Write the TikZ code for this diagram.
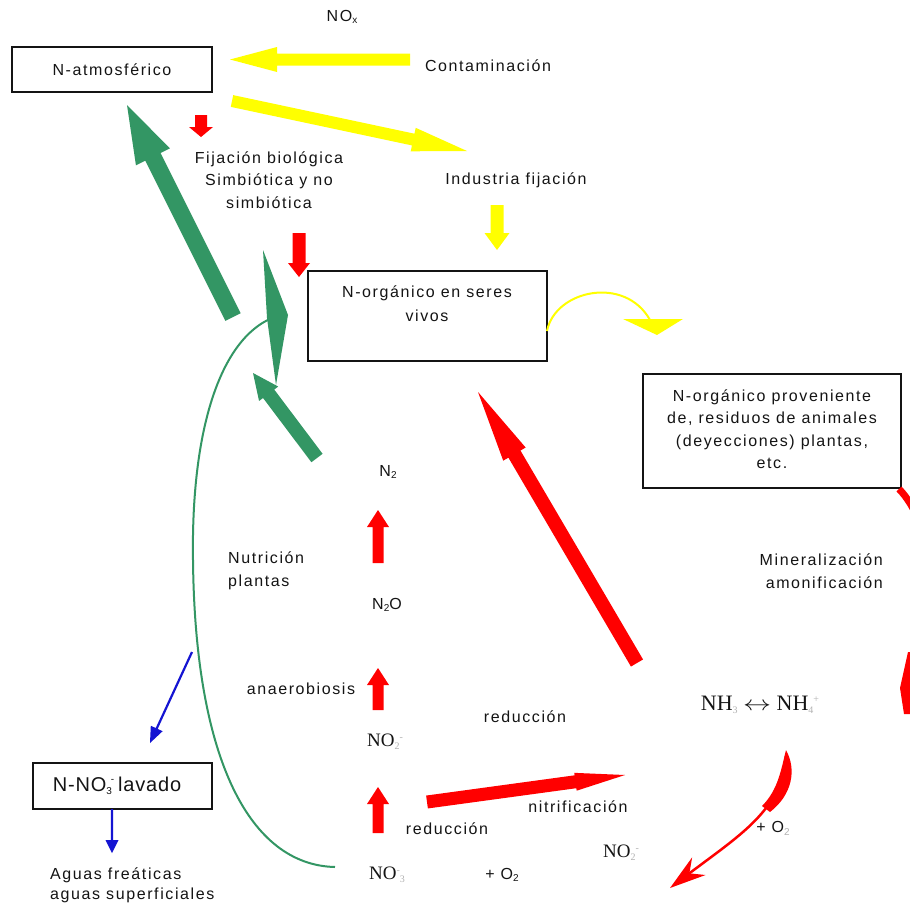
\documentclass[tikz,border=0pt]{standalone}
\usepackage{graphicx}
\usepackage{fontspec}
\setmainfont{Liberation Sans}
\newfontfamily\lbl[LetterSpace=10]{Liberation Sans}
\newfontfamily\lblb[LetterSpace=4]{Liberation Sans}
\newfontfamily\serf{Liberation Serif}
\usetikzlibrary{calc,arrows.meta}
\definecolor{cyel}{RGB}{255,255,0}
\definecolor{cred}{RGB}{255,0,0}
\definecolor{cgreen}{RGB}{51,150,100}
\definecolor{cblue}{RGB}{20,20,210}
\definecolor{ctxt}{RGB}{20,20,20}
\newcommand{\lsub}[1]{\raisebox{-0.3ex}{\fontsize{10}{10}\selectfont #1}}
\newcommand{\lsup}[1]{\raisebox{0.9ex}{\fontsize{10}{10}\selectfont #1}}
\newcommand{\gsub}[1]{\raisebox{-0.35ex}{\fontsize{10}{10}\selectfont\color{gray!60}#1}}
\newcommand{\gsup}[1]{\raisebox{0.75ex}{\fontsize{10}{10}\selectfont\color{gray!60}#1}}
% block arrow: colour, tail, tip, shaft half width, head half width, head length
\newcommand{\fatarrow}[6]{%
  \coordinate (fabase) at ($(#3)!#6pt!(#2)$);
  \fill[#1] ($(#2)!#4pt!90:(#3)$) -- ($(fabase)!#4pt!90:(#3)$) -- ($(fabase)!#5pt!90:(#3)$) -- (#3)
     -- ($(fabase)!#5pt!-90:(#3)$) -- ($(fabase)!#4pt!-90:(#3)$) -- ($(#2)!#4pt!-90:(#3)$) -- cycle;}
\tikzset{
  lab/.style={font=\lbl\fontsize{16}{22.5}\selectfont, text=ctxt, inner sep=0pt, align=center},
  chem/.style={font=\serf\fontsize{19}{22}\selectfont, text=ctxt, inner sep=0pt},
  box/.style={draw=ctxt, line width=1.6pt, fill=white, inner sep=0pt},
}
\begin{document}
\begin{tikzpicture}[x=1pt,y=-1pt]
\useasboundingbox (0,0) rectangle (910,919);
\fill[white] (0,0) rectangle (910,919);

% ---------- boxes ----------
\node[box, minimum width=200pt, minimum height=45pt] (atm) at (112,69.5) {};
\node[lab] (atmt) at (112,69.5) {N-atmosférico};
\node[box, minimum width=239pt, minimum height=90pt] (org) at (427.5,316) {};
\node[lab, font=\lbl\fontsize{16}{24}\selectfont] (orgt) at (427,304) {N-orgánico en seres\\vivos};
\node[box, minimum width=258pt, minimum height=114pt] (res) at (772,431) {};
\node[lab] (rest) at (772,429) {N-orgánico proveniente\\de, residuos de animales\\(deyecciones) plantas,\\etc.};
\node[box, minimum width=179pt, minimum height=46pt] (lav) at (122.5,786) {};
\node[lab, font=\lblb\fontsize{20}{22}\selectfont] (lavt) at (117,786) {N-NO\lsub{3}\hspace{-1pt}\lsup{-}\hspace{0.2em}lavado};

% ---------- labels ----------
\node[lab] (nox) at (342,17) {NO\lsub{x}};
\node[lab] (cont) at (488,66) {Contaminación};
\node[lab] (fij) at (269,180) {Fijación biológica\\Simbiótica y no\\simbiótica};
\node[lab] (ind) at (516,180) {Industria fijación};
\node[lab, anchor=east, align=right] (mine) at (883,571) {Mineralización\\amonificación};
\node[lab, anchor=west, align=left] (nut) at (228,571) {Nutrición\\plantas};
\node[lab] (n2) at (388,472) {N\lsub{2}};
\node[lab] (n2o) at (387,605) {N\lsub{2}O};
\node[lab] (anae) at (301,689) {anaerobiosis};
\node[chem] (no2a) at (385,742) {NO\gsub{2}\gsup{-}};
\node[chem] (no3) at (387,875) {NO\gsup{-}\gsub{3}};
\node[lab] (red1) at (447,829) {reducción};
\node[lab] (nitr) at (578,807) {nitrificación};
\node[chem] (no2b) at (621,853) {NO\gsub{2}\gsup{-}};
\node[lab] (o2a) at (502,875) {+ O\lsub{2}};
\node[lab] (red2) at (525,717) {reducción};
\node[chem, font=\serf\fontsize{22}{24}\selectfont] (nh) at (760,705) {NH\gsub{3} \scalebox{1.35}[1]{$\leftrightarrow$} NH\gsub{4}\gsup{+}};
\node[lab] (o2b) at (773,828) {+ O\gsub{2}};
\node[lab, anchor=west, align=left, font=\lbl\fontsize{16}{20}\selectfont] (agua) at (50,885) {Aguas freáticas\\aguas superficiales};

% ---------- coordinates ----------
\coordinate (ya1t) at (410,59.5);  \coordinate (ya1h) at (230,59.5);
\coordinate (ya2t) at (232,101);   \coordinate (ya2h) at (467,151);
\coordinate (ya3t) at (497,205);   \coordinate (ya3h) at (497,250);
\coordinate (ra1t) at (201,115);   \coordinate (ra1h) at (201,137);
\coordinate (ra2t) at (299,233);   \coordinate (ra2h) at (299,277);
\coordinate (ra3t) at (378,563);   \coordinate (ra3h) at (378,510);
\coordinate (ra4t) at (378,710);   \coordinate (ra4h) at (378,668);
\coordinate (ra5t) at (378,833);   \coordinate (ra5h) at (378,787);
\coordinate (ra6t) at (637,663);   \coordinate (ra6h) at (478,392);
\coordinate (ra7t) at (427,802);   \coordinate (ra7h) at (625,775);
\coordinate (ga1t) at (233,317);   \coordinate (ga1h) at (127,105);
\coordinate (ga2t) at (317,458);   \coordinate (ga2h) at (253,373);
\coordinate (ba1t) at (192,652);   \coordinate (ba1h) at (150,743);
\coordinate (ba2t) at (112,809);   \coordinate (ba2h) at (112,853);
\coordinate (gcs) at (335,867);    \coordinate (gcm) at (193,560);  \coordinate (gce) at (272,318);
\coordinate (ycs) at (547,331);    \coordinate (yce) at (650,320);
\coordinate (rcs) at (786,756);    \coordinate (rce) at (670,888);

% ---------- yellow ----------
\fatarrow{cyel}{ya1t}{ya1h}{6}{12.5}{47}
\fatarrow{cyel}{ya2t}{ya2h}{6}{12}{55}
\fatarrow{cyel}{ya3t}{ya3h}{6.5}{12.5}{17}
\draw[cyel, line width=2pt] (ycs) .. controls (555,290) and (625,275) .. (yce);
\fill[cyel] (623,319) -- (683,319) -- (657,335) -- cycle;

% ---------- red ----------
\fatarrow{cred}{ra1t}{ra1h}{6}{12}{10}
\fatarrow{cred}{ra2t}{ra2h}{6.5}{11}{14}
\fatarrow{cred}{ra3t}{ra3h}{5.5}{11}{17}
\fatarrow{cred}{ra4t}{ra4h}{5.5}{11}{17}
\fatarrow{cred}{ra5t}{ra5h}{5.5}{11}{17}
\fatarrow{cred}{ra6t}{ra6h}{7}{13}{72}
\fatarrow{cred}{ra7t}{ra7h}{6.5}{9}{50}
\draw[cred, line width=2.5pt, -{Stealth[length=36pt,width=22pt]}] (rcs) .. controls (782,810) and (740,835) .. (rce);
\fill[cred] (786,750) .. controls (797,770) and (792,795) .. (770,812) -- (762,806) .. controls (778,790) and (781,770) .. cycle;
\begin{scope}
  \clip (0,0) rectangle (910,919);
  \draw[cred, line width=7pt] (899,489) .. controls (915,505) and (930,540) .. (935,580);
  \fill[cred] (908,652) -- (900,688) -- (904,714) -- (915,714) -- (915,652) -- cycle;
\end{scope}

% ---------- green ----------
\fatarrow{cgreen}{ga1t}{ga1h}{8.5}{19}{58}
\fatarrow{cgreen}{ga2t}{ga2h}{7}{12}{26}
\draw[cgreen, line width=2pt] (gcs) .. controls (250,865) and (195,760) .. (gcm) .. controls (191,430) and (220,340) .. (gce);
\fill[cgreen] (263,250) -- (288,315) -- (276,385) -- (267,318) -- cycle;

% ---------- blue ----------
\fatarrow{cblue}{ba1t}{ba1h}{1.1}{6.5}{16}
\fatarrow{cblue}{ba2t}{ba2h}{1.1}{6.5}{13}
\end{tikzpicture}
\end{document}
